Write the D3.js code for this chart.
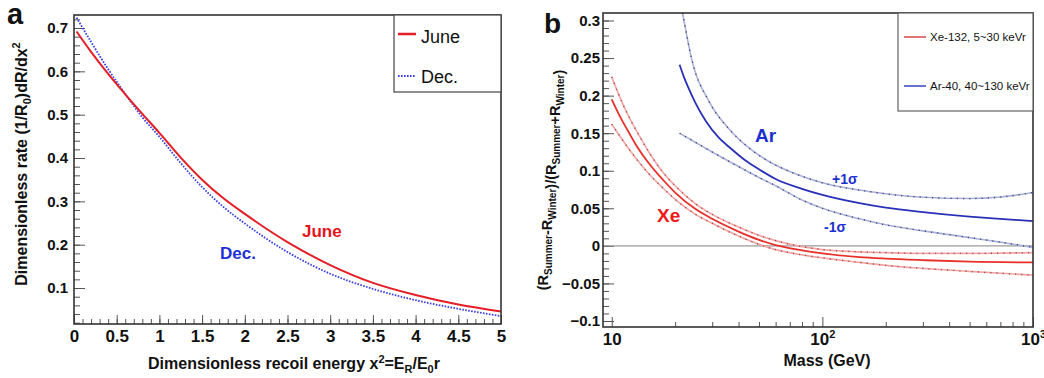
<!DOCTYPE html>
<html>
<head>
<script src="https://d3js.org/d3.v7.min.js"></script>
<style>
    body { margin: 0; background: #fff; }
    svg text { font-family: "Liberation Sans", Arial, Helvetica, sans-serif; }
    .tick line { stroke: #555; }
</style>
</head>
<body>
<script>
// ---- panel a : dimensionless rate vs recoil energy
const energyX  = [0.03, 0.2, 0.4, 0.6, 0.8, 1, 1.25, 1.5, 1.75, 2, 2.5, 3, 3.5, 4, 4.5, 5];
const juneRate = [0.692, 0.645, 0.594, 0.547, 0.502, 0.458, 0.401, 0.350, 0.307, 0.271, 0.206, 0.153, 0.112, 0.084, 0.062, 0.046];
const decRate  = [0.724, 0.668, 0.605, 0.548, 0.494, 0.449, 0.388, 0.333, 0.287, 0.249, 0.183, 0.133, 0.098, 0.072, 0.052, 0.035];
const rateTicks   = [0.1, 0.2, 0.3, 0.4, 0.5, 0.6, 0.7];
const energyTicks = [0, 0.5, 1, 1.5, 2, 2.5, 3, 3.5, 4, 4.5, 5];

// ---- panel b : modulation amplitude vs WIMP mass
const massXe = [10, 11, 12, 13, 15, 17.5, 20, 25, 30, 40, 50, 60, 80, 100, 150, 200, 300, 500, 1000];
const xeMid  = [0.195, 0.171, 0.152, 0.135, 0.110, 0.088, 0.071, 0.049, 0.036, 0.019, 0.008, 0.001, -0.006, -0.010, -0.015, -0.017, -0.019, -0.021, -0.022];
const xeHigh = [0.225, 0.196, 0.173, 0.155, 0.125, 0.098, 0.080, 0.056, 0.042, 0.025, 0.014, 0.007, -0.001, -0.005, -0.008, -0.009, -0.010, -0.010, -0.009];
const xeLow  = [0.162, 0.145, 0.130, 0.117, 0.096, 0.077, 0.062, 0.042, 0.030, 0.013, 0.002, -0.005, -0.012, -0.016, -0.022, -0.026, -0.030, -0.034, -0.039];

const massAr = [21, 22, 23, 25, 28, 32, 37, 43, 50, 60, 80, 100, 150, 200, 300, 500, 700, 1000];
const arMid  = [0.241, 0.225, 0.212, 0.190, 0.166, 0.145, 0.129, 0.114, 0.102, 0.089, 0.076, 0.068, 0.057, 0.051, 0.045, 0.039, 0.036, 0.033];
const massArHigh = [21.7, 24, 29, 36.5, 45, 56, 70, 100, 170, 290, 500, 700, 1000];
const arHigh     = [0.31, 0.248, 0.192, 0.154, 0.130, 0.112, 0.099, 0.084, 0.072, 0.065, 0.063, 0.065, 0.071];
const massArLow  = [21, 26, 30, 38, 50, 60, 80, 100, 150, 200, 300, 500, 700, 1000];
const arLow      = [0.150, 0.135, 0.125, 0.109, 0.091, 0.080, 0.061, 0.050, 0.036, 0.028, 0.020, 0.011, 0.005, -0.002];

const modTicks  = [-0.1, -0.05, 0, 0.05, 0.1, 0.15, 0.2, 0.25, 0.3];
const massTicks = [10, 100, 1000];
const massLabels = ["10", "10|2", "10|3"];

const svg = d3.select("body").append("svg")
    .attr("width", 1044)
    .attr("height", 378);

const bold = "bold";

// ================= panel a =================
const xA = d3.scaleLinear().domain([0, 5]).range([74, 501]);
const yA = d3.scaleLinear().domain([0.017, 0.73]).range([324, 15]);

svg.append("clipPath").attr("id", "clipA")
    .append("rect").attr("x", 74).attr("y", 15).attr("width", 427).attr("height", 309);

// minor y ticks
svg.append("g").attr("transform", "translate(74,0)")
    .call(d3.axisLeft(yA).tickValues(d3.range(1, 37).map(i => i * 0.02)).tickSize(-6).tickFormat(""))
    .call(g => g.select(".domain").remove());
// major y ticks
svg.append("g").attr("transform", "translate(74,0)")
    .call(d3.axisLeft(yA).tickValues(rateTicks).tickSize(-11).tickPadding(6).tickFormat(d3.format(".1f")))
    .call(g => g.select(".domain").remove())
    .selectAll("text").attr("font-size", 15).attr("font-weight", bold).attr("fill", "#111");

// minor x ticks
svg.append("g").attr("transform", "translate(0,324)")
    .call(d3.axisBottom(xA).tickValues(d3.range(0, 51).map(i => i * 0.1)).tickSize(-5).tickFormat(""))
    .call(g => g.select(".domain").remove());
svg.append("g").attr("transform", "translate(0,324)")
    .call(d3.axisBottom(xA).tickValues(energyTicks).tickSize(-9).tickPadding(6).tickFormat(d => String(d)))
    .call(g => g.select(".domain").remove())
    .selectAll("text").attr("font-size", 17).attr("font-weight", bold).attr("fill", "#111");

const lineA = d3.line().x(d => xA(d[0])).y(d => yA(d[1])).curve(d3.curveMonotoneX);
const plotA = svg.append("g").attr("clip-path", "url(#clipA)");
plotA.append("path").datum(d3.zip(energyX, decRate))
    .attr("d", lineA).attr("fill", "none")
    .attr("stroke", "#3b40e0").attr("stroke-width", 1.8).attr("stroke-dasharray", "1.6,1.4");
plotA.append("path").datum(d3.zip(energyX, juneRate))
    .attr("d", lineA).attr("fill", "none")
    .attr("stroke", "#e41e26").attr("stroke-width", 2);

svg.append("rect").attr("x", 74).attr("y", 15).attr("width", 427).attr("height", 309)
    .attr("fill", "none").attr("stroke", "#333").attr("stroke-width", 1.6);

// legend a
svg.append("rect").attr("x", 394).attr("y", 15).attr("width", 107).attr("height", 77)
    .attr("fill", "#fff").attr("stroke", "#444").attr("stroke-width", 1.2);
svg.append("line").attr("x1", 398).attr("x2", 416).attr("y1", 34).attr("y2", 34)
    .attr("stroke", "#e41e26").attr("stroke-width", 2.5);
svg.append("line").attr("x1", 398).attr("x2", 416).attr("y1", 76).attr("y2", 76)
    .attr("stroke", "#3b40e0").attr("stroke-width", 1.8).attr("stroke-dasharray", "1.6,1.4");
svg.append("text").attr("x", 421).attr("y", 43).attr("font-size", 18).attr("fill", "#111").text("June");
svg.append("text").attr("x", 421).attr("y", 83).attr("font-size", 18).attr("fill", "#111").text("Dec.");

svg.append("text").attr("x", 302).attr("y", 237).attr("font-size", 17).attr("font-weight", bold)
    .attr("fill", "#e8141c").text("June");
svg.append("text").attr("x", 220).attr("y", 259).attr("font-size", 17).attr("font-weight", bold)
    .attr("fill", "#1f2fd6").text("Dec.");

// axis titles a
const xtA = svg.append("text").attr("x", 294).attr("y", 369).attr("text-anchor", "middle")
    .attr("font-size", 16).attr("font-weight", bold).attr("fill", "#111");
xtA.append("tspan").text("Dimensionless recoil energy x");
xtA.append("tspan").attr("dy", -6).attr("font-size", 11).text("2");
xtA.append("tspan").attr("dy", 6).text("=E");
xtA.append("tspan").attr("dy", 4).attr("font-size", 11).text("R");
xtA.append("tspan").attr("dy", -4).text("/E");
xtA.append("tspan").attr("dy", 4).attr("font-size", 11).text("0");
xtA.append("tspan").attr("dy", -4).text("r");

const ytA = svg.append("text").attr("transform", "translate(27,164) rotate(-90)")
    .attr("text-anchor", "middle").attr("font-size", 16).attr("font-weight", bold).attr("fill", "#111");
ytA.append("tspan").text("Dimensionless rate (1/R");
ytA.append("tspan").attr("dy", 4).attr("font-size", 11).text("0");
ytA.append("tspan").attr("dy", -4).text(")dR/dx");
ytA.append("tspan").attr("dy", -7).attr("font-size", 11).text("2");

svg.append("text").attr("x", 7).attr("y", 24).attr("font-size", 29).attr("font-weight", bold)
    .attr("fill", "#111").text("a");

// ================= panel b =================
const xB = d3.scaleLog().domain([9.09, 1000]).range([603, 1033]);
const yB = d3.scaleLinear().domain([-0.108, 0.31]).range([327, 13]);

svg.append("clipPath").attr("id", "clipB")
    .append("rect").attr("x", 603).attr("y", 13).attr("width", 430).attr("height", 314);

svg.append("g").attr("transform", "translate(603,0)")
    .call(d3.axisLeft(yB).tickValues(d3.range(-10, 31).map(i => i * 0.01)).tickSize(-6).tickFormat(""))
    .call(g => g.select(".domain").remove());
svg.append("g").attr("transform", "translate(603,0)")
    .call(d3.axisLeft(yB).tickValues(modTicks).tickSize(-11).tickPadding(3).tickFormat(d => d3.format("")(+d.toFixed(2))))
    .call(g => g.select(".domain").remove())
    .selectAll("text").attr("font-size", 15).attr("font-weight", bold).attr("fill", "#111");

const massMinor = xB.ticks().filter(d => massTicks.indexOf(d) < 0);
svg.append("g").attr("transform", "translate(0,327)")
    .call(d3.axisBottom(xB).tickValues(massMinor).tickSize(-5).tickFormat(""))
    .call(g => g.select(".domain").remove());
svg.append("g").attr("transform", "translate(0,327)")
    .call(d3.axisBottom(xB).tickValues(massTicks).tickSize(-10).tickPadding(6).tickFormat(""))
    .call(g => g.select(".domain").remove())
    .selectAll(".tick").append("text")
    .attr("y", 18).attr("text-anchor", "middle").attr("font-size", 17).attr("font-weight", bold)
    .attr("fill", "#111")
    .each(function (d, i) {
        const parts = massLabels[i].split("|");
        const t = d3.select(this);
        t.append("tspan").text(parts[0]);
        if (parts[1]) t.append("tspan").attr("dy", -7).attr("font-size", 11).text(parts[1]);
    });

const lineB = d3.line().x(d => xB(d[0])).y(d => yB(d[1])).curve(d3.curveMonotoneX);
const plotB = svg.append("g").attr("clip-path", "url(#clipB)");

plotB.append("line").attr("x1", 603).attr("x2", 1033).attr("y1", yB(0)).attr("y2", yB(0))
    .attr("stroke", "#9a9a9a").attr("stroke-width", 1.2);

function band(mass, vals, pale, dark) {
    const pts = d3.zip(mass, vals);
    plotB.append("path").datum(pts).attr("d", lineB).attr("fill", "none")
        .attr("stroke", pale).attr("stroke-width", 1.6);
    plotB.append("path").datum(pts).attr("d", lineB).attr("fill", "none")
        .attr("stroke", dark).attr("stroke-width", 1.3).attr("stroke-dasharray", "1.2,5");
}
band(massXe, xeHigh, "#f1a6a6", "#a84444");
band(massXe, xeLow, "#f1a6a6", "#a84444");
band(massArHigh, arHigh, "#aab0d8", "#36407e");
band(massArLow, arLow, "#aab0d8", "#36407e");

plotB.append("path").datum(d3.zip(massXe, xeMid)).attr("d", lineB).attr("fill", "none")
    .attr("stroke", "#e8302a").attr("stroke-width", 1.8);
plotB.append("path").datum(d3.zip(massAr, arMid)).attr("d", lineB).attr("fill", "none")
    .attr("stroke", "#2830b8").attr("stroke-width", 1.8);

svg.append("rect").attr("x", 603).attr("y", 13).attr("width", 430).attr("height", 314)
    .attr("fill", "none").attr("stroke", "#333").attr("stroke-width", 1.6);

// legend b
svg.append("rect").attr("x", 898).attr("y", 13).attr("width", 135).attr("height", 98)
    .attr("fill", "#fff").attr("stroke", "#555").attr("stroke-width", 1.1);
svg.append("line").attr("x1", 904).attr("x2", 926).attr("y1", 37).attr("y2", 37)
    .attr("stroke", "#d84848").attr("stroke-width", 1.5);
svg.append("line").attr("x1", 904).attr("x2", 926).attr("y1", 86).attr("y2", 86)
    .attr("stroke", "#3a44c0").attr("stroke-width", 1.5);
svg.append("text").attr("x", 930).attr("y", 41).attr("font-size", 11.5).attr("fill", "#111")
    .text("Xe-132, 5~30 keVr");
svg.append("text").attr("x", 930).attr("y", 90).attr("font-size", 11.5).attr("fill", "#111")
    .text("Ar-40, 40~130 keVr");

svg.append("text").attr("x", 755).attr("y", 142).attr("font-size", 19).attr("font-weight", bold)
    .attr("fill", "#1c2fd0").text("Ar");
svg.append("text").attr("x", 657).attr("y", 222).attr("font-size", 19).attr("font-weight", bold)
    .attr("fill", "#f01818").text("Xe");
svg.append("text").attr("x", 832).attr("y", 184).attr("font-size", 14).attr("font-weight", bold)
    .attr("fill", "#1c2fd0").text("+1σ");
svg.append("text").attr("x", 824).attr("y", 232).attr("font-size", 14).attr("font-weight", bold)
    .attr("fill", "#1c2fd0").text("-1σ");

// axis titles b
svg.append("text").attr("x", 827).attr("y", 366).attr("text-anchor", "middle")
    .attr("font-size", 16).attr("font-weight", bold).attr("fill", "#111").text("Mass (GeV)");

const ytB = svg.append("text").attr("transform", "translate(548,180) rotate(-90)")
    .attr("text-anchor", "middle").attr("font-size", 14.5).attr("font-weight", bold).attr("fill", "#111");
[["(R", "Summer"], ["-R", "Winter"], [")/(R", "Summer"], ["+R", "Winter"]].forEach(p => {
    ytB.append("tspan").text(p[0]);
    ytB.append("tspan").attr("dy", 4).attr("font-size", 10).text(p[1]);
    ytB.append("tspan").attr("dy", -4).text("");
});
ytB.append("tspan").text(")");

svg.append("text").attr("x", 544).attr("y", 33).attr("font-size", 28).attr("font-weight", bold)
    .attr("fill", "#111").text("b");
</script>
</body>
</html>
